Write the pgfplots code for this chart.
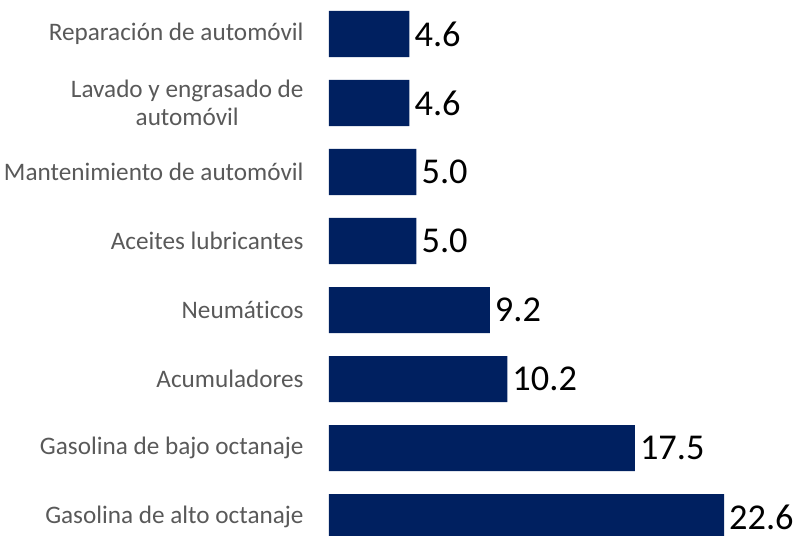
\documentclass[border=0pt]{standalone}
\usepackage{pgfplots}
\pgfplotsset{compat=1.18}
\usepackage{fontspec}
\setmainfont{Carlito}[Ligatures={NoCommon}]
\definecolor{barblue}{HTML}{002060}
\definecolor{labgray}{HTML}{595959}
\begin{document}
\begin{tikzpicture}
\useasboundingbox (-329bp,0) rectangle (472bp,536bp);
\begin{axis}[
  scale only axis,
  width=395bp, height=535.8bp,
  xmin=0, xmax=22.6,
  ymin=-0.275, ymax=7.49,
  xbar, bar width=0.667,
  axis line style={draw=none},
  tick style={draw=none},
  xtick=\empty,
  ytick={0,1,2,3,4,5,6,7},
  yticklabels={Gasolina de alto octanaje, Gasolina de bajo octanaje, Acumuladores, Neumáticos, Aceites lubricantes, Mantenimiento de automóvil, {Lavado y engrasado de\\automóvil}, Reparación de automóvil},
  yticklabel style={font=\fontsize{25.3}{28}\selectfont, text=labgray, align=center, inner sep=0pt, xshift=-21bp},
  nodes near coords,
  nodes near coords align={horizontal},
  every node near coord/.append style={font=\fontsize{36.5}{40}\selectfont, text=black, inner sep=0pt, xshift=5bp, anchor=west},
  /pgf/number format/.cd, fixed, fixed zerofill, precision=1, assume math mode=true,
  /pgfplots/.cd,
  clip=false,
]
\addplot[fill=barblue, draw=none] coordinates {
 (22.6,0) (17.5,1) (10.2,2) (9.2,3) (5.0,4) (5.0,5) (4.6,6) (4.6,7)
};
\end{axis}
\end{tikzpicture}
\end{document}
